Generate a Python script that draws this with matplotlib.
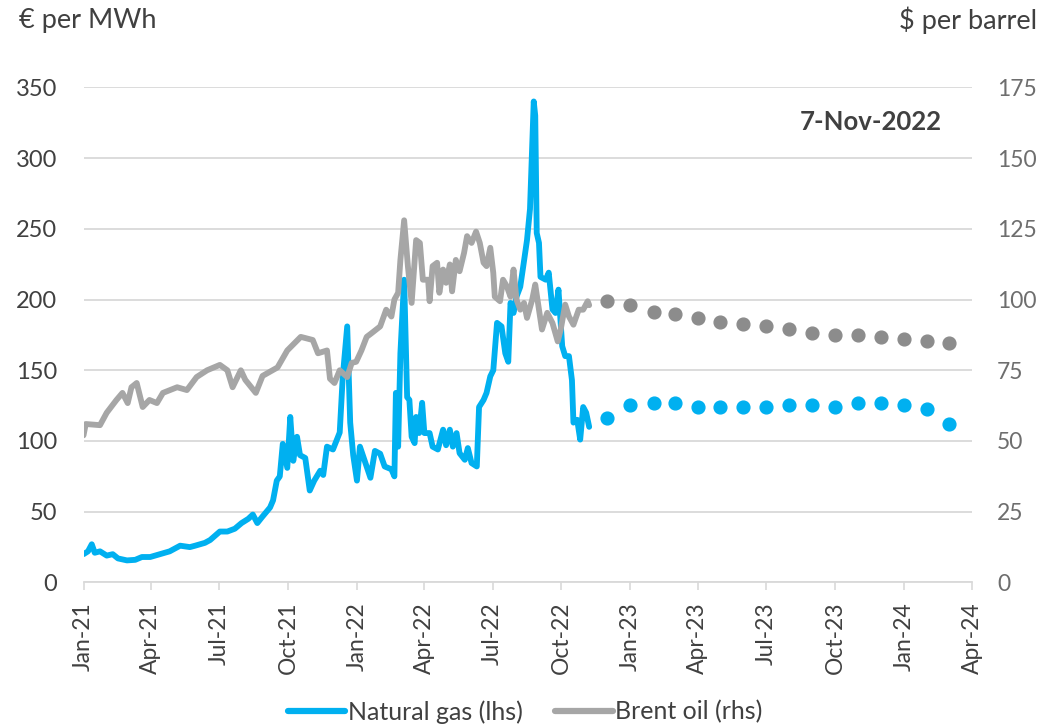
import matplotlib
matplotlib.use("Agg")
import matplotlib.pyplot as plt
import numpy as np
import pandas as pd
from matplotlib.lines import Line2D

plt.rcParams['font.family'] = ['Lato', 'DejaVu Sans']

# --- Spot prices --------------------------------------------------------
gas_dates = [
    "2021-01-01", "2021-01-07", "2021-01-12", "2021-01-16", "2021-01-23", "2021-02-01",
    "2021-02-09", "2021-02-16", "2021-02-28", "2021-03-11", "2021-03-20", "2021-03-31",
    "2021-04-13", "2021-04-26", "2021-05-10", "2021-05-23", "2021-05-30", "2021-06-12",
    "2021-06-19", "2021-07-02", "2021-07-12", "2021-07-22", "2021-07-31", "2021-08-09",
    "2021-08-15", "2021-08-21", "2021-08-27", "2021-09-07", "2021-09-11", "2021-09-16",
    "2021-09-20", "2021-09-24", "2021-09-30", "2021-10-04", "2021-10-08", "2021-10-13",
    "2021-10-17", "2021-10-24", "2021-10-30", "2021-11-05", "2021-11-13", "2021-11-17",
    "2021-11-22", "2021-11-30", "2021-12-09", "2021-12-13", "2021-12-19", "2021-12-23",
    "2021-12-27", "2022-01-01", "2022-01-05", "2022-01-12", "2022-01-19", "2022-01-25",
    "2022-02-01", "2022-02-07", "2022-02-16", "2022-02-20", "2022-02-22", "2022-02-25",
    "2022-02-28", "2022-03-05", "2022-03-09", "2022-03-12", "2022-03-15", "2022-03-19",
    "2022-03-21", "2022-03-25", "2022-03-29", "2022-04-01", "2022-04-08", "2022-04-12",
    "2022-04-19", "2022-04-26", "2022-04-30", "2022-05-05", "2022-05-09", "2022-05-14",
    "2022-05-18", "2022-05-25", "2022-05-29", "2022-06-03", "2022-06-10", "2022-06-13",
    "2022-06-19", "2022-06-23", "2022-06-28", "2022-07-02", "2022-07-07", "2022-07-13",
    "2022-07-18", "2022-07-22", "2022-07-25", "2022-07-29", "2022-08-02", "2022-08-07",
    "2022-08-11", "2022-08-16", "2022-08-20", "2022-08-25", "2022-08-27", "2022-08-29",
    "2022-09-01", "2022-09-03", "2022-09-10", "2022-09-14", "2022-09-19", "2022-09-23",
    "2022-09-27", "2022-10-02", "2022-10-06", "2022-10-11", "2022-10-15", "2022-10-17",
    "2022-10-22", "2022-10-26", "2022-10-30", "2022-11-03", "2022-11-07",
]
gas_values = [
    20, 22, 27, 21, 22, 19,
    20, 17, 15.6, 16, 18, 18,
    20, 22, 26, 25, 26, 28,
    30, 36, 36, 38, 42, 45,
    48, 42, 46, 53, 58, 72,
    75, 98, 81, 117, 86, 103,
    90, 88, 65, 72, 79, 76,
    96, 94, 106, 145, 181, 113,
    90, 72, 96, 85, 74, 93,
    91, 82, 80, 75, 134, 96,
    162, 214, 131, 129, 103, 98.5,
    117, 105.6, 127, 105.6, 105.6, 96,
    94, 108, 97, 108, 96, 105.6,
    91.4, 86.7, 95, 84.4, 82, 124,
    129, 134, 145.7, 150, 183.5, 181,
    162, 156, 197.6, 190.5, 202, 209,
    223.5, 242, 264, 340, 330, 247,
    240, 216, 214, 219, 193, 190.5,
    207, 167, 160, 160, 143, 113,
    115, 101, 124, 120, 110,
]

oil_dates = [
    "2021-01-01", "2021-01-04", "2021-01-23", "2021-02-01", "2021-02-14", "2021-02-22",
    "2021-03-01", "2021-03-06", "2021-03-13", "2021-03-21", "2021-03-30", "2021-04-09",
    "2021-04-17", "2021-05-06", "2021-05-19", "2021-06-01", "2021-06-15", "2021-07-02",
    "2021-07-12", "2021-07-19", "2021-07-30", "2021-08-05", "2021-08-19", "2021-08-28",
    "2021-09-17", "2021-09-30", "2021-10-18", "2021-11-03", "2021-11-10", "2021-11-22",
    "2021-11-26", "2021-12-02", "2021-12-09", "2021-12-19", "2021-12-25", "2021-12-31",
    "2022-01-07", "2022-01-14", "2022-01-20", "2022-02-01", "2022-02-09", "2022-02-16",
    "2022-02-20", "2022-02-25", "2022-02-28", "2022-03-05", "2022-03-10", "2022-03-15",
    "2022-03-21", "2022-03-26", "2022-03-30", "2022-04-06", "2022-04-08", "2022-04-12",
    "2022-04-18", "2022-04-21", "2022-04-26", "2022-04-30", "2022-05-05", "2022-05-08",
    "2022-05-13", "2022-05-18", "2022-05-24", "2022-05-28", "2022-06-03", "2022-06-09",
    "2022-06-14", "2022-06-19", "2022-06-23", "2022-06-28", "2022-07-02", "2022-07-04",
    "2022-07-11", "2022-07-15", "2022-07-20", "2022-07-25", "2022-07-29", "2022-08-02",
    "2022-08-07", "2022-08-12", "2022-08-16", "2022-08-23", "2022-08-27", "2022-09-01",
    "2022-09-05", "2022-09-12", "2022-09-19", "2022-09-26", "2022-09-30", "2022-10-06",
    "2022-10-11", "2022-10-17", "2022-10-24", "2022-10-30", "2022-11-05", "2022-11-07",
]
oil_values = [
    52, 56, 55.6, 60, 64.5, 67,
    63.4, 69, 70.5, 62, 64.5, 63.4,
    67, 69, 68, 72.6, 75, 76.9,
    75, 69, 75, 71.6, 67, 73,
    76, 82, 86.8, 85.7, 81, 82,
    72, 70.5, 75, 72.6, 77.6, 78,
    82, 86.8, 88, 90.5, 96.4, 94,
    100, 102.4, 114, 128, 111.8, 98.8,
    121, 120, 107, 107, 99.4, 111.8,
    113, 102.4, 110.6, 105.9, 112.4, 102.9,
    114, 110, 116.5, 122.4, 120, 124,
    120, 113, 111.8, 118.3, 109.4, 101,
    99.4, 107, 104.7, 101, 110.6, 100,
    96.4, 98.8, 93.5, 100, 105.3, 96.4,
    89.4, 95.3, 91.7, 85.2, 89.4, 98.2,
    94, 91.1, 96.4, 96.4, 99.4, 98,
]

# --- Futures curve (monthly contracts) ----------------------------------
fwd_months = [
    "2022-12-01", "2023-01-01", "2023-02-01", "2023-03-01", "2023-04-01", "2023-05-01",
    "2023-06-01", "2023-07-01", "2023-08-01", "2023-09-01", "2023-10-01", "2023-11-01",
    "2023-12-01", "2024-01-01", "2024-02-01", "2024-03-01",
]
gas_fwd = [116, 125.4, 126.6, 126.6, 123.8, 123.8, 123.8, 123.8,
           125.4, 125.4, 123.8, 126.6, 126.6, 125.4, 122.4, 112]
oil_fwd = [99.6, 98.1, 95.7, 94.9, 93.4, 92.0, 91.2, 90.5,
           89.6, 88.2, 87.5, 87.5, 86.7, 86.0, 85.3, 84.6]

x_ticks = pd.date_range("2021-01-01", "2024-04-01", freq="QS")
x_labels = [d.strftime("%b-%y") for d in x_ticks]

GAS = "#00B0F0"
OIL = "#A6A6A6"
OIL_DOT = "#8C8C8C"
GRID = "#D9D9D9"
TXT = "#404040"

fig = plt.figure(figsize=(10.4, 7.27), dpi=100)
ax = fig.add_axes([0.0803, 0.1988, 0.8543, 0.6811])
ax2 = ax.twinx()

ax.plot(pd.to_datetime(gas_dates), gas_values, color=GAS, lw=4.2,
        solid_joinstyle="round", solid_capstyle="round", zorder=3)
ax.plot(pd.to_datetime(fwd_months), gas_fwd, linestyle="none", marker="o",
        ms=9.2, color=GAS, zorder=3)
ax2.plot(pd.to_datetime(oil_dates), oil_values, color=OIL, lw=4.2,
         solid_joinstyle="round", solid_capstyle="round", zorder=3)
ax2.plot(pd.to_datetime(fwd_months), oil_fwd, linestyle="none", marker="o",
         ms=9.2, color=OIL_DOT, zorder=3)

ax.set_xlim(pd.Timestamp("2021-01-01"), pd.Timestamp("2024-04-01"))
ax.set_ylim(0, 350)
ax2.set_ylim(0, 175)
ax.set_yticks(np.arange(0, 351, 50))
ax2.set_yticks(np.arange(0, 176, 25))

ax.set_xticks(x_ticks)
ax.set_xticklabels(x_labels, rotation=90, fontsize=16.5, color=TXT)
ax.tick_params(axis="x", length=6, width=1.2, color=GRID, pad=8)
ax.tick_params(axis="y", length=0, pad=19, labelsize=17, labelcolor=TXT)
ax2.tick_params(axis="y", length=0, pad=18, labelsize=16.5, labelcolor="#6E6E6E")

ax.grid(axis="y", color=GRID, lw=1.3)
ax.set_axisbelow(True)
for a in (ax, ax2):
    for s in ("top", "left", "right"):
        a.spines[s].set_visible(False)
    a.spines["bottom"].set_color(GRID)
    a.spines["bottom"].set_linewidth(1.3)
ax2.spines["bottom"].set_visible(False)

fig.text(0.018, 0.972, "€ per MWh", fontsize=19.5, color=TXT, ha="left", va="center")
fig.text(0.997, 0.972, "$ per barrel", fontsize=19.5, color=TXT, ha="right", va="center")
fig.text(0.906, 0.832, "7-Nov-2022", fontsize=18.5, fontweight="bold",
         color=TXT, ha="right", va="center")

handles = [Line2D([], [], color=GAS, lw=4.5, solid_capstyle="round"),
           Line2D([], [], color=OIL, lw=4.5, solid_capstyle="round")]
fig.legend(handles, ["Natural gas (lhs)", "Brent oil (rhs)"], loc="center",
           bbox_to_anchor=(0.505, 0.021), ncol=2, frameon=False, fontsize=18,
           handlelength=2.3, handletextpad=0.1, columnspacing=1.3,
           labelcolor=TXT)

fig.savefig("out.png", dpi=100)
